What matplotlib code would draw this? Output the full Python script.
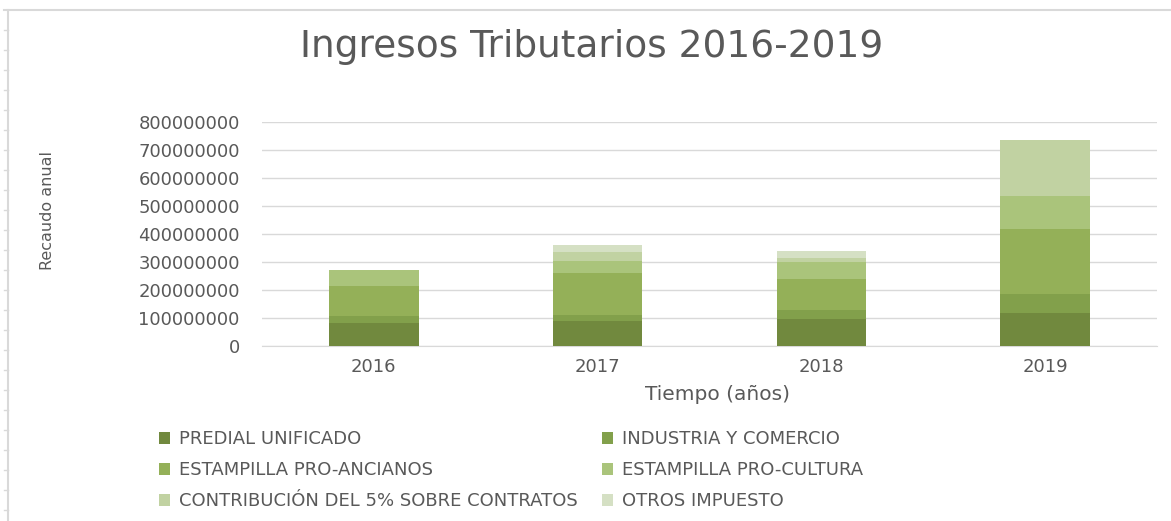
import matplotlib.pyplot as plt
from matplotlib.lines import Line2D
import numpy as np

years = ['2016', '2017', '2018', '2019']
series = ['PREDIAL UNIFICADO', 'INDUSTRIA Y COMERCIO', 'ESTAMPILLA PRO-ANCIANOS',
          'ESTAMPILLA PRO-CULTURA', 'CONTRIBUCIÓN DEL 5% SOBRE CONTRATOS', 'OTROS IMPUESTO']

predial = [83e6, 88e6, 98e6, 116e6]
industria = [24e6, 24e6, 29e6, 71e6]
ancianos = [107e6, 148e6, 112e6, 231e6]
cultura = [57e6, 45e6, 62e6, 117e6]
contribucion = [0, 30e6, 14e6, 200e6]
otros = [0, 24e6, 24e6, 0]

colors = ['#71893e', '#82a04b', '#94b058', '#aac47b', '#c1d2a2', '#d5e0c4']
grey = '#595959'

fig = plt.figure(figsize=(11.71, 5.21), dpi=100)
ax = fig.add_axes([0.2237, 0.336, 0.7643, 0.43])

x = np.arange(len(years))
bottom = np.zeros(len(years))
bars = []
for vals, name, c in zip([predial, industria, ancianos, cultura, contribucion, otros], series, colors):
    b = ax.bar(x, vals, 0.4, bottom=bottom, color=c, label=name, zorder=3)
    bars.append(b)
    bottom += np.array(vals)

ax.set_ylim(0, 8e8)
ax.set_xlim(-0.5, 3.5)
ax.set_yticks(np.arange(0, 8.01e8, 1e8))
ax.set_yticklabels(['%d' % v for v in np.arange(0, 800000001, 100000000)])
ax.set_xticks(x)
ax.set_xticklabels(years)
ax.tick_params(length=0, colors=grey, labelsize=13)
ax.tick_params(axis='y', pad=16)
ax.tick_params(axis='x', pad=9)
ax.grid(axis='y', color='#d9d9d9', linewidth=1, zorder=0)
for s in ['top', 'right', 'left']:
    ax.spines[s].set_visible(False)
ax.spines['bottom'].set_color('#d9d9d9')

fig.text(718 / 1171, 1 - 395 / 521, 'Tiempo (años)', color=grey, fontsize=14.5,
         ha='center', va='center')
fig.text(48 / 1171, 1 - 210 / 521, 'Recaudo anual', rotation=90, color=grey,
         fontsize=11.5, ha='center', va='center')
fig.text(592 / 1171, 1 - 47 / 521, 'Ingresos Tributarios 2016-2019', color=grey,
         fontsize=27, ha='center', va='center')

order = [0, 2, 4, 1, 3, 5]
leg = fig.legend([bars[i] for i in order], [series[i] for i in order], ncol=2,
                 loc='upper left', bbox_to_anchor=(0.122, 0.205), frameon=False,
                 handlelength=0.6, handleheight=0.6, handletextpad=0.5,
                 columnspacing=1.35, labelspacing=0.72, fontsize=13)
for t in leg.get_texts():
    t.set_color(grey)

# spreadsheet cell lines around the chart
fig.add_artist(Line2D([0.003, 1], [0.981, 0.981], color='#d9d9d9', lw=1.5))
fig.add_artist(Line2D([0.007, 0.007], [0, 0.981], color='#d9d9d9', lw=1.5))
for yy in range(30, 521, 20):
    fig.add_artist(Line2D([0.003, 0.007], [1 - yy / 521, 1 - yy / 521],
                          color='#d9d9d9', lw=1))

plt.savefig('out.png')
